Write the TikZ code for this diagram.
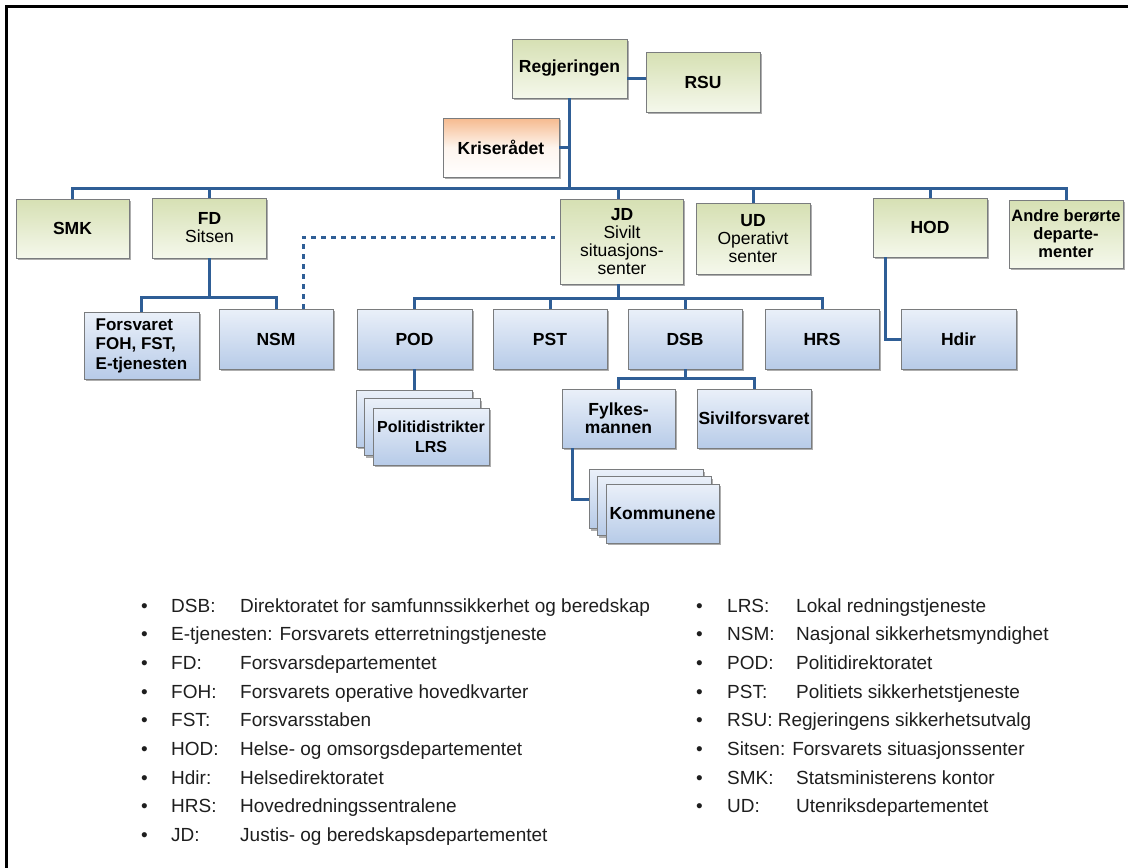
\documentclass[tikz,border=0pt]{standalone}
\usepackage{fontspec}
\setmainfont{Liberation Sans}
\usetikzlibrary{shadows}
\definecolor{connc}{HTML}{2F5E96}
\definecolor{boxborder}{HTML}{7A7C7E}
\definecolor{gtop}{HTML}{D6E0B3}
\definecolor{gbot}{HTML}{F5F8EC}
\definecolor{btop}{HTML}{EAF0F9}
\definecolor{bbot}{HTML}{B7CBE8}
\definecolor{otop}{HTML}{F6BA8E}
\definecolor{legtext}{HTML}{1E1E1E}
\begin{document}
\begin{tikzpicture}[x=1pt,y=-1pt,
  box/.style={draw=boxborder, line width=0.9pt, inner sep=1pt, align=center,
    font=\fontsize{17.5}{18}\selectfont\bfseries,
    drop shadow={shadow xshift=1.5pt, shadow yshift=-2pt, opacity=0.45, fill=black!70},
    minimum width=114pt, minimum height=59pt},
  gbox/.style={box, top color=gtop, bottom color=gbot},
  bbox/.style={box, top color=btop, bottom color=bbot},
  obox/.style={box, top color=otop, bottom color=white, middle color=white!85!otop},
  conn/.style={draw=connc, line width=3pt},
  dotline/.style={draw=connc, line width=3pt, dash pattern=on 5pt off 5pt},
  leg/.style={anchor=base west, inner sep=0pt, font=\fontsize{19}{20}\selectfont, text=legtext}]
\useasboundingbox (0,0) rectangle (1128,868);
\draw[line width=2.2pt] (6.5,868) -- (6.5,6.5) -- (1128,6.5);

% top level
\node[gbox, minimum width=115pt] (reg) at (569.5,68.5) {Regjeringen};
\node[gbox, minimum height=60pt] (rsu) at (703,82) {RSU};
\node[obox, minimum width=116pt] (kris) at (501,147.5) {Kriserådet};

% departments
\node[gbox, minimum width=113pt] (smk) at (72.5,228.5) {SMK};
\node[gbox, minimum height=60pt] (fd) at (209.5,228) {FD\\\mdseries Sitsen};
\node[gbox, minimum width=123pt, minimum height=85pt] (jd) at (622,241.5) {JD\\\mdseries Sivilt\\\mdseries situasjons-\\\mdseries senter};
\node[gbox, minimum height=71pt] (ud) at (753,238.5) {UD\\\mdseries Operativt\\\mdseries senter};
\node[gbox] (hod) at (930,227.5) {HOD};
\node[gbox, minimum height=68pt, font=\fontsize{16.5}{18}\selectfont\bfseries] (andre) at (1066,234) {Andre berørte\\departe-\\menter};

% agencies
\node[bbox, minimum width=115pt, minimum height=67pt, align=left, font=\fontsize{17}{19.5}\selectfont\bfseries] (fors) at (141.5,345.5) {Forsvaret\\FOH, FST,\\E-tjenesten};
\node[bbox, minimum height=60pt] (nsm) at (276,339) {NSM};
\node[bbox, minimum width=115pt, minimum height=60pt] (pod) at (414.5,339) {POD};
\node[bbox, minimum height=60pt] (pst) at (550,339) {PST};
\node[bbox, minimum height=60pt] (dsb) at (685,339) {DSB};
\node[bbox, minimum height=60pt] (hrs) at (822,339) {HRS};
\node[bbox, minimum width=115pt, minimum height=60pt] (hdir) at (958.5,339) {Hdir};

% police districts stack
\node[bbox, minimum width=116pt, minimum height=57pt] (pdb1) at (414,418.5) {};
\node[bbox, minimum width=116pt, minimum height=57pt] (pdb2) at (422,427) {};
\node[bbox, minimum width=116pt, minimum height=57pt, font=\fontsize{16}{20}\selectfont\bfseries] (pd) at (431,436.5) {Politidistrikter\\LRS};

% DSB children
\node[bbox, minimum width=113pt] (fylk) at (618.5,418.5) {Fylkes-\\mannen};
\node[bbox] (sivil) at (754,418.5) {Sivilforsvaret};

% municipalities stack
\node[bbox, minimum width=114pt] (kb1) at (646,499) {};
\node[bbox, minimum width=114pt] (kb2) at (654,506) {};
\node[bbox, minimum width=113pt] (kom) at (662.5,513.5) {Kommunene};

% connectors
\coordinate (bus) at (569,188);
\coordinate (fdbus) at (0,297);
\coordinate (jdbus) at (0,298);
\coordinate (dsbbus) at (0,378);
\coordinate (rr) at ([yshift=-9.5pt]reg.east);
\draw[conn] (rr) -- (rr -| rsu.west);
\draw[conn] (reg.south) -- (reg.south |- bus);
\draw[conn] (kris.east) -- (kris.east -| reg.south);
\draw[conn] (smk.north) -- (smk.north |- bus) -- (andre.north |- bus) -- (andre.north);
\foreach \n in {fd,ud,hod} \draw[conn] (\n.north) -- (\n.north |- bus);
\coordinate (jdn) at ([xshift=-4pt]jd.north);
\draw[conn] (jdn) -- (jdn |- bus);

\draw[conn] (fd.south) -- (fd.south |- fdbus);
\draw[conn] (fors.north) -- (fors.north |- fdbus) -- (nsm.north |- fdbus) -- (nsm.north);
\coordinate (nd) at ([xshift=27pt]nsm.north);
\coordinate (jw) at ([yshift=4.5pt]jd.west);
\draw[dotline, shorten >=5pt] (nd) |- (jw);

\coordinate (jds) at ([xshift=-4pt]jd.south);
\draw[conn] (jds) -- (jds |- jdbus);
\draw[conn] (pod.north) -- (pod.north |- jdbus) -- (hrs.north |- jdbus) -- (hrs.north);
\foreach \n in {pst,dsb} \draw[conn] (\n.north) -- (\n.north |- jdbus);
\draw[conn] (pod.south) -- (pod.south |- pdb1.north);

\draw[conn] (dsb.south) -- (dsb.south |- dsbbus);
\draw[conn] (fylk.north) -- (fylk.north |- dsbbus) -- (sivil.north |- dsbbus) -- (sivil.north);
\coordinate (fs) at ([xshift=-46.5pt]fylk.south);
\draw[conn] (fs) |- (kb1.west);

\coordinate (hs) at ([xshift=-45pt]hod.south);
\draw[conn] (hs) |- (hdir.west);

% legend
\foreach \a/\d [count=\i from 0] in {
  DSB:/Direktoratet for samfunnssikkerhet og beredskap,
  E-tjenesten: Forsvarets etterretningstjeneste/,
  FD:/Forsvarsdepartementet,
  FOH:/Forsvarets operative hovedkvarter,
  FST:/Forsvarsstaben,
  HOD:/Helse- og omsorgsdepartementet,
  Hdir:/Helsedirektoratet,
  HRS:/Hovedredningssentralene,
  JD:/Justis- og beredskapsdepartementet}
{
  \node[leg] (lb\i) at (141,{612+28.7*\i}) {•};
  \node[leg] (la\i) at (171,{612+28.7*\i}) {\a};
  \node[leg] (ld\i) at (240,{612+28.7*\i}) {\d};
}
\foreach \a/\d [count=\i from 0] in {
  LRS:/Lokal redningstjeneste,
  NSM:/Nasjonal sikkerhetsmyndighet,
  POD:/Politidirektoratet,
  PST:/Politiets sikkerhetstjeneste,
  RSU: Regjeringens sikkerhetsutvalg/,
  Sitsen: Forsvarets situasjonssenter/,
  SMK:/Statsministerens kontor,
  UD:/Utenriksdepartementet}
{
  \node[leg] (rb\i) at (696,{612+28.7*\i}) {•};
  \node[leg] (ra\i) at (727,{612+28.7*\i}) {\a};
  \node[leg] (rd\i) at (796,{612+28.7*\i}) {\d};
}
\end{tikzpicture}
\end{document}
